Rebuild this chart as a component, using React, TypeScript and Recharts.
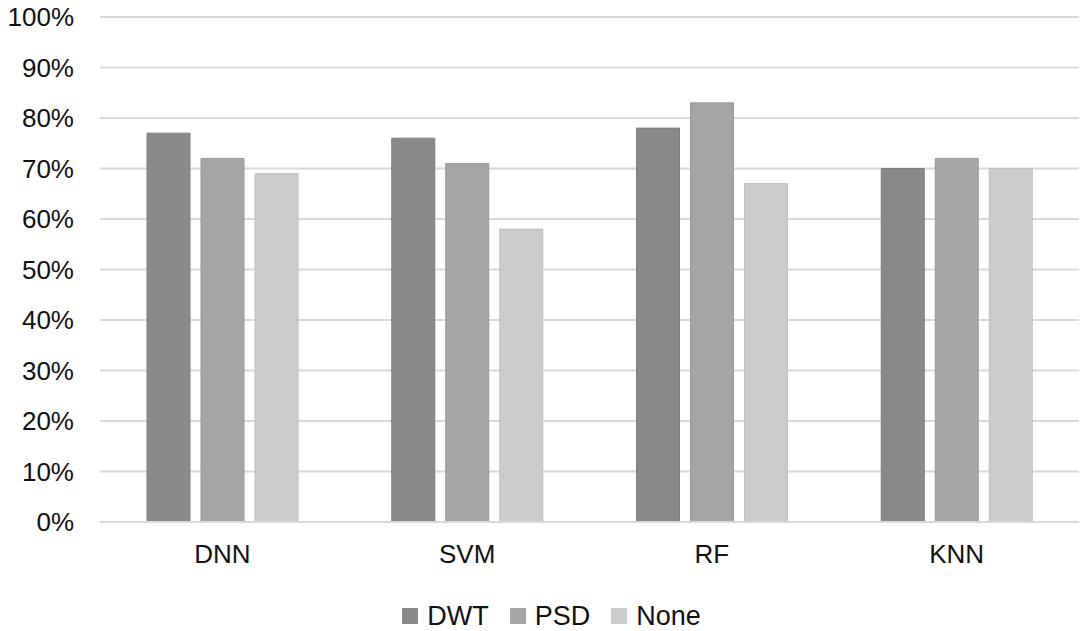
import React from 'react';
import { BarChart, Bar, XAxis, YAxis, CartesianGrid, Legend } from 'recharts';

const categories = ['DNN', 'SVM', 'RF', 'KNN'];
const dwt = [77, 76, 78, 70];
const psd = [72, 71, 83, 72];
const none = [69, 58, 67, 70];
const yTicks = [0, 10, 20, 30, 40, 50, 60, 70, 80, 90, 100];

const series = [
  { key: 'DWT', fill: '#8a8a8a', stroke: '#7d7d7d' },
  { key: 'PSD', fill: '#a5a5a5', stroke: '#999999' },
  { key: 'None', fill: '#cbcbcb', stroke: '#c0c0c0' },
];

const data = categories.map((name, i) => ({
  name,
  DWT: dwt[i],
  PSD: psd[i],
  None: none[i],
}));

const FONT = '"Liberation Sans", Arial, sans-serif';

const renderLegend = () => (
  <div style={{ display: 'flex', justifyContent: 'center', alignItems: 'center', fontFamily: FONT, fontSize: 27, color: '#111', height: 30, paddingLeft: 24 }}>
    {series.map((s, i) => (
      <div key={s.key} style={{ display: 'flex', alignItems: 'center', marginRight: i < series.length - 1 ? 21 : 0 }}>
        <span style={{ display: 'inline-block', width: 16, height: 16, background: s.fill, marginRight: 9 }} />
        <span>{s.key}</span>
      </div>
    ))}
  </div>
);

export default function App() {
  return (
    <div style={{ position: 'absolute', left: 0, top: 0, width: 1084, height: 631, background: '#fff' }}>
      <BarChart
        width={1084}
        height={631}
        data={data}
        margin={{ top: 17, right: 5, left: 0, bottom: 0 }}
        barCategoryGap={47}
        barGap={11}
      >
        <CartesianGrid vertical={false} stroke="#d9d9d9" strokeWidth={2} />
        <XAxis
          dataKey="name"
          axisLine={{ stroke: '#d9d9d9', strokeWidth: 2 }}
          tickLine={false}
          tickMargin={17}
          height={79}
          tick={{ fill: '#111', fontSize: 26, fontFamily: FONT }}
        />
        <YAxis
          domain={[0, 100]}
          ticks={yTicks}
          tickFormatter={(v) => `${v}%`}
          axisLine={false}
          tickLine={false}
          tickMargin={20}
          width={100}
          interval={0}
          tick={{ fill: '#111', fontSize: 26, fontFamily: FONT }}
        />
        <Legend verticalAlign="bottom" height={30} content={renderLegend} />
        {series.map((s) => (
          <Bar key={s.key} dataKey={s.key} fill={s.fill} stroke={s.stroke} strokeWidth={1} isAnimationActive={false} />
        ))}
      </BarChart>
    </div>
  );
}
